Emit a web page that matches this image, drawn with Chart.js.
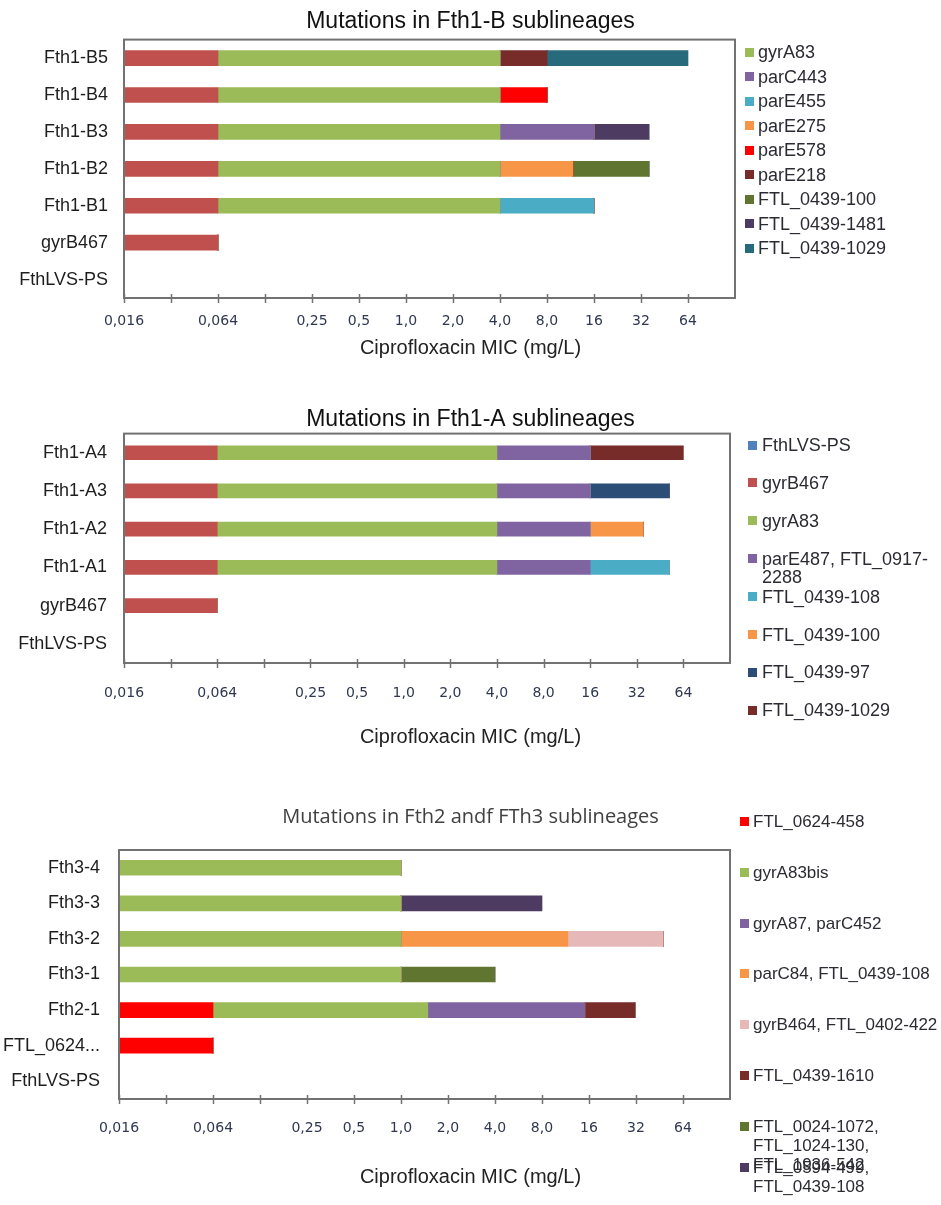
<!DOCTYPE html>
<html>
<head>
<meta charset="utf-8">
<script src="https://cdn.jsdelivr.net/npm/chart.js@4.4.0/dist/chart.umd.min.js"></script>
<style>
  html, body { margin: 0; padding: 0; background: #fff; }
  #page { position: relative; width: 941px; height: 1205px; overflow: hidden; font-family: "Liberation Sans", Arial, sans-serif; }
  canvas { position: absolute; left: 0; }
  .item { position: absolute; white-space: pre; color: #2b2b33; }
  .sw { position: absolute; width: 9px; height: 9px; }
</style>
</head>
<body>
<div id="page">
  <canvas id="chartB" width="941" height="370" style="top:0"></canvas>
  <canvas id="chartA" width="941" height="380" style="top:390px"></canvas>
  <canvas id="chartC" width="941" height="425" style="top:780px"></canvas>
  <div id="legB"></div>
  <div id="legA"></div>
  <div id="legC"></div>
</div>
<script>
// x axis: one step per two-fold dilution, 0,016 ... 64 mg/L
const TICK_LABELS = ['0,016', '', '0,064', '', '0,25', '0,5', '1,0', '2,0', '4,0', '8,0', '16', '32', '64', ''];
const X_TITLE = 'Ciprofloxacin MIC (mg/L)';

// Fth1-B sublineages (segment widths in dilution steps)
const B_TITLE = 'Mutations in Fth1-B sublineages';
const B_CATEGORIES = ['Fth1-B5', 'Fth1-B4', 'Fth1-B3', 'Fth1-B2', 'Fth1-B1', 'gyrB467', 'FthLVS-PS'];
const B_SERIES = ['gyrB467', 'gyrA83', 'parC443', 'parE455', 'parE275', 'parE578', 'parE218',
  'FTL_0439-100', 'FTL_0439-1481', 'FTL_0439-1029'];
const B_COLORS = ['#C0504D', '#9BBB59', '#8064A2', '#4BACC6', '#F79646', '#FF0000', '#772C2A',
  '#5F7530', '#4D3B62', '#276A7C'];
const B_VALUES = [
  [2, 2, 2, 2, 2, 2, 0],
  [6, 6, 6, 6, 6, 0, 0],
  [0, 0, 2, 0, 0, 0, 0],
  [0, 0, 0, 0, 2, 0, 0],
  [0, 0, 0, 1.55, 0, 0, 0],
  [0, 1, 0, 0, 0, 0, 0],
  [1, 0, 0, 0, 0, 0, 0],
  [0, 0, 0, 1.62, 0, 0, 0],
  [0, 0, 1.17, 0, 0, 0, 0],
  [3, 0, 0, 0, 0, 0, 0]
];
const B_LEGEND_HIDDEN = ['gyrB467'];

// Fth1-A sublineages
const A_TITLE = 'Mutations in Fth1-A sublineages';
const A_CATEGORIES = ['Fth1-A4', 'Fth1-A3', 'Fth1-A2', 'Fth1-A1', 'gyrB467', 'FthLVS-PS'];
const A_SERIES = ['FthLVS-PS', 'gyrB467', 'gyrA83', 'parE487, FTL_0917-\n2288', 'FTL_0439-108',
  'FTL_0439-100', 'FTL_0439-97', 'FTL_0439-1029'];
const A_COLORS = ['#4F81BD', '#C0504D', '#9BBB59', '#8064A2', '#4BACC6', '#F79646', '#2C4D75', '#772C2A'];
const A_VALUES = [
  [0, 0, 0, 0, 0, 0],
  [2, 2, 2, 2, 2, 0],
  [6, 6, 6, 6, 0, 0],
  [2, 2, 2, 2, 0, 0],
  [0, 0, 0, 1.7, 0, 0],
  [0, 0, 1.14, 0, 0, 0],
  [0, 1.7, 0, 0, 0, 0],
  [2, 0, 0, 0, 0, 0]
];

// Fth2 / Fth3 sublineages
const C_TITLE = 'Mutations in Fth2 andf FTh3 sublineages';
const C_CATEGORIES = ['Fth3-4', 'Fth3-3', 'Fth3-2', 'Fth3-1', 'Fth2-1', 'FTL_0624...', 'FthLVS-PS'];
const C_SERIES = ['FTL_0624-458', 'gyrA83bis', 'gyrA87, parC452', 'parC84, FTL_0439-108',
  'gyrB464, FTL_0402-422', 'FTL_0439-1610', 'FTL_0024-1072,\nFTL_1024-130,\nFTL_1936-542',
  'FTL_0594-499,\nFTL_0439-108'];
const C_COLORS = ['#FF0000', '#9BBB59', '#8064A2', '#F79646', '#E6B9B8', '#772C2A', '#5F7530', '#4D3B62'];
const C_VALUES = [
  [0, 0, 0, 0, 2, 2, 0],
  [6, 6, 6, 6, 4.57, 0, 0],
  [0, 0, 0, 0, 3.34, 0, 0],
  [0, 0, 3.55, 0, 0, 0, 0],
  [0, 0, 2.03, 0, 0, 0, 0],
  [0, 0, 0, 0, 1.07, 0, 0],
  [0, 0, 0, 2, 0, 0, 0],
  [0, 3, 0, 0, 0, 0, 0]
];

const SANS = '"Liberation Sans", Arial, Helvetica, sans-serif';
const plain = s => s.replace(/-\n/g, '-').replace(/\n/g, ' ');

// axis box + tick crosses
const frame = {
  id: 'frame',
  afterDatasetsDraw(chart) {
    const { ctx, chartArea: a, scales: { x } } = chart;
    ctx.save();
    ctx.strokeStyle = '#727272';
    ctx.lineWidth = 2;
    ctx.strokeRect(a.left, a.top, a.right - a.left, a.bottom - a.top);
    ctx.lineWidth = 1.5;
    for (let v = 0; v < TICK_LABELS.length - 1; v++) {
      const px = Math.round(x.getPixelForValue(v)) + 0.5;
      ctx.beginPath();
      ctx.moveTo(px, a.bottom - 4);
      ctx.lineTo(px, a.bottom + 5);
      ctx.stroke();
    }
    ctx.restore();
  }
};

function makeChart(id, o) {
  return new Chart(document.getElementById(id), {
    type: 'bar',
    data: {
      labels: o.categories,
      datasets: o.series.map((name, i) => ({
        label: plain(name),
        data: o.values[i],
        backgroundColor: o.colors[i],
        borderWidth: 0,
        barThickness: o.bar
      }))
    },
    options: {
      indexAxis: 'y',
      responsive: false,
      animation: false,
      events: [],
      layout: { padding: { left: 0, right: 0, top: 0, bottom: o.padBottom } },
      scales: {
        x: {
          type: 'linear', stacked: true, min: 0, max: 13,
          border: { display: false },
          grid: { display: false, drawTicks: true, tickLength: o.tickLen },
          ticks: {
            stepSize: 1, autoSkip: false, maxRotation: 0, padding: 0,
            color: '#2f3850',
            font: { family: '"DejaVu Sans", Verdana, sans-serif', size: 14 },
            callback: v => TICK_LABELS[v] || ''
          }
        },
        y: {
          type: 'category', stacked: true,
          border: { display: false },
          grid: { display: false, drawTicks: false },
          ticks: { padding: o.labelPad, color: '#1e1e1e', font: { family: SANS, size: 18 } },
          afterFit: s => { s.width = o.left; }
        },
        spacer: {
          type: 'linear', position: 'right',
          border: { display: false },
          grid: { display: false, drawTicks: false },
          ticks: { display: false },
          afterFit: s => { s.width = o.right; }
        }
      },
      plugins: {
        legend: { display: false },
        tooltip: { enabled: false },
        title: {
          display: true, text: o.title, color: o.titleColor,
          font: o.titleFont, padding: o.titlePad
        },
        subtitle: {
          display: true, position: 'bottom', text: X_TITLE, color: '#222',
          font: { family: SANS, size: 20, weight: 'normal' }, padding: { top: o.xTitlePad, bottom: 0 }
        }
      }
    },
    plugins: [frame]
  });
}

function makeLegend(id, names, colors, o) {
  const el = document.getElementById(id);
  let k = 0;
  names.forEach((name, i) => {
    if (o.hidden && o.hidden.includes(name)) return;
    const cy = o.centers ? o.centers[k] : o.start + o.step * k;
    k++;
    const sw = document.createElement('div');
    sw.className = 'sw';
    sw.style.left = o.swX + 'px';
    sw.style.top = (cy - 4.5) + 'px';
    sw.style.background = colors[i];
    el.appendChild(sw);
    const t = document.createElement('div');
    t.className = 'item';
    t.textContent = name;
    t.style.left = o.textX + 'px';
    t.style.top = (cy - o.lh / 2) + 'px';
    t.style.fontSize = o.size + 'px';
    t.style.lineHeight = o.lh + 'px';
    el.appendChild(t);
  });
}

makeChart('chartB', {
  categories: B_CATEGORIES, series: B_SERIES, colors: B_COLORS, values: B_VALUES,
  title: B_TITLE, titleColor: '#111', titleFont: { family: SANS, size: 23, weight: 'normal' },
  titlePad: { top: 8, bottom: 4 }, bar: 15, left: 124, right: 206, labelPad: 16,
  tickLen: 14.6, xTitlePad: 6.6, padBottom: 10
});
makeChart('chartA', {
  categories: A_CATEGORIES, series: A_SERIES, colors: A_COLORS, values: A_VALUES,
  title: A_TITLE, titleColor: '#111', titleFont: { family: SANS, size: 23, weight: 'normal' },
  titlePad: { top: 16, bottom: 0 }, bar: 14, left: 124, right: 211, labelPad: 17,
  tickLen: 21.6, xTitlePad: 23.6, padBottom: 21
});
makeChart('chartC', {
  categories: C_CATEGORIES, series: C_SERIES, colors: C_COLORS, values: C_VALUES,
  title: C_TITLE, titleColor: '#404040', titleFont: { family: '"Open Sans", sans-serif', size: 20, weight: 'normal' },
  titlePad: { top: 25, bottom: 21 }, bar: 15, left: 119, right: 211, labelPad: 19,
  tickLen: 20.6, xTitlePad: 28.6, padBottom: 16
});

makeLegend('legB', B_SERIES, B_COLORS, { hidden: B_LEGEND_HIDDEN, start: 52, step: 24.5, swX: 745, textX: 758, size: 18, lh: 20 });
makeLegend('legA', A_SERIES, A_COLORS, { start: 445, step: 37.9, swX: 748, textX: 762, size: 18, lh: 18 });
makeLegend('legC', C_SERIES, C_COLORS, { centers: [821, 872, 923, 973, 1024, 1075, 1126, 1167], swX: 740, textX: 753, size: 17, lh: 19 });
</script>
</body>
</html>
